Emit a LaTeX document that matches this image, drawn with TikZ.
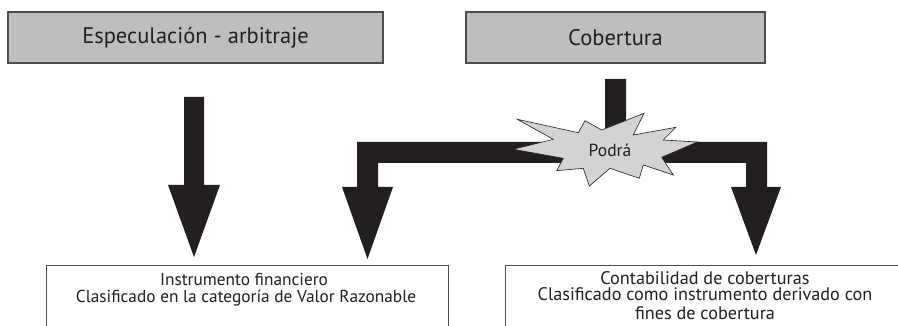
\documentclass[tikz,border=0pt]{standalone}
\usepackage{fontspec}
\setmainfont{PT Sans}
\definecolor{boxgray}{HTML}{BCBEC0}
\definecolor{burstgray}{HTML}{D1D3D4}
\definecolor{ink}{HTML}{231F20}
\definecolor{edgegray}{HTML}{4D4D4F}
\begin{document}
\begin{tikzpicture}[x=1pt,y=-1pt,
  topbox/.style={draw=edgegray, line width=1.3pt, fill=boxgray, inner sep=0pt, text=ink, font=\fontsize{22.5}{26}\selectfont},
  botbox/.style={draw=edgegray, line width=1pt, fill=white, inner sep=0pt},
  bottext/.style={text=ink, font=\fontsize{17.3}{19}\selectfont, anchor=base, inner sep=0pt},
  bottextR/.style={text=ink, font=\fontsize{18.2}{20}\selectfont, anchor=base, inner sep=0pt},
  bigarrow/.style={fill=ink, draw=none},
  burststyle/.style={fill=burstgray, draw=ink, line width=0.6pt}]
\clip (0,0) rectangle (898,326);
\fill[white] (0,0) rectangle (898,326);
% top boxes
\node[topbox, minimum width=375pt, minimum height=51pt] (spec) at (195.5,37.5) {Especulación - arbitraje};
\node[topbox, minimum width=299pt, minimum height=51pt] (cob) at (615.5,37.5) {Cobertura};
% bottom boxes
\node[botbox, minimum width=402pt, minimum height=120pt, anchor=north west] (inst) at (46,265) {};
\node[botbox, minimum width=420pt, minimum height=120pt, anchor=north west] (cont) at (505,265) {};
% coordinates for arrow tips
\coordinate (tipA) at (194,257);
\coordinate (tipB) at (367.5,259);
\coordinate (tipC) at (756,255);
% left arrow
\fill[bigarrow] (184,97) -- (204,97) -- (204,185) -- (220,185) -- (tipA) -- (168,185) -- (184,185) -- cycle;
% branching arrow
\fill[bigarrow] (605,79) -- (626,79) -- (626,142) -- (767,142) -- (767,187) -- (781,187) -- (tipC)
  -- (731,187) -- (746,187) -- (746,163) -- (378,163) -- (378,187) -- (393,187) -- (tipB)
  -- (342,187) -- (357,187) -- (357,142) -- (605,142) -- cycle;
% starburst
\filldraw[burststyle] (513.3,149.3) -- (553.3,139.3) -- (517.3,119.3) -- (578.3,132.7) -- (585,120.7)
  -- (601.7,130) -- (644,113.3) -- (633.3,135) -- (676,127.3) -- (663.3,140) -- (697.3,142)
  -- (661.7,157.3) -- (673.3,175) -- (643.3,165) -- (639.3,178.3) -- (610,168.3) -- (589.3,186)
  -- (583.3,168.3) -- (556.7,170.7) -- (563.3,158.3) -- cycle;
\node[text=ink, font=\fontsize{17.5}{20}\selectfont, inner sep=0pt] (podra) at (610,150) {Podrá};
% bottom texts
\node[bottext] (i1) at (244,285) {Instrumento financiero};
\node[bottext] (i2) at (246,302) {Clasificado en la categoría de Valor Razonable};
\node[bottextR] (c1) at (705,284) {Contabilidad de coberturas};
\node[bottextR] (c2) at (705,301) {Clasificado como instrumento derivado con};
\node[bottextR] (c3) at (705,319) {fines de cobertura};
\end{tikzpicture}
\end{document}
